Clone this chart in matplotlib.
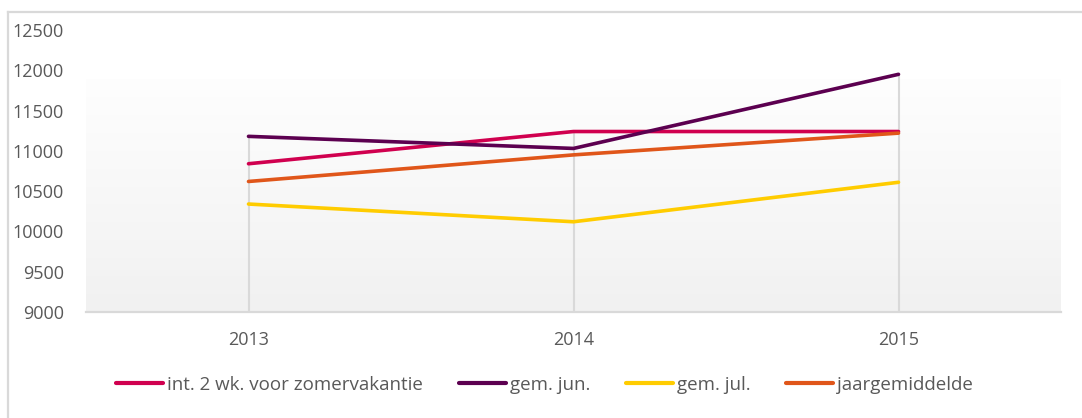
import numpy as np
import matplotlib
matplotlib.use("Agg")
import matplotlib.pyplot as plt
from matplotlib.lines import Line2D

plt.rcParams['font.family'] = ['Open Sans', 'DejaVu Sans']

years = ['2013', '2014', '2015']
series_names = ['int. 2 wk. voor zomervakantie', 'gem. jun.', 'gem. jul.', 'jaargemiddelde']
int_2wk = [10840, 11240, 11240]
gem_jun = [11180, 11030, 11950]
gem_jul = [10340, 10120, 10610]
jaargem = [10620, 10950, 11220]
colors = ['#d0004f', '#5c0050', '#ffcc00', '#e0561a']

yticks = [9000, 9500, 10000, 10500, 11000, 11500, 12000, 12500]
text_color = '#595959'
grid_color = '#d9d9d9'

fig = plt.figure(figsize=(10.82, 4.18), dpi=100)
ax = fig.add_axes([86 / 1082, 1 - 312 / 418, (1061 - 86) / 1082, (312 - 30) / 418])

# soft gradient behind the plot
grad = np.linspace(0, 1, 256).reshape(-1, 1)
cmap = matplotlib.colors.LinearSegmentedColormap.from_list('bg', ['#f1f1f1', '#fefefe'])
ax.imshow(grad, cmap=cmap, origin='lower', aspect='auto', extent=(0, 1, 0, 0.823),
          transform=ax.transAxes, zorder=0)

x = np.arange(len(years))
all_series = [int_2wk, gem_jun, gem_jul, jaargem]

# drop lines from highest value to the axis
tops = np.max(np.array(all_series), axis=0)
ax.vlines(x, yticks[0], tops, color=grid_color, lw=1.5, zorder=1)

for vals, name, c in zip(all_series, series_names, colors):
    ax.plot(x, vals, color=c, lw=2.6, label=name, solid_capstyle='round', zorder=3)

ax.set_xlim(-0.5, 2.5)
ax.set_ylim(9000, 12500)
ax.set_yticks(yticks)
ax.set_xticks(x)
ax.set_xticklabels(years)
ax.tick_params(axis='both', length=0, labelsize=13, colors=text_color)
ax.tick_params(axis='y', pad=16)
ax.tick_params(axis='x', pad=14)
for s in ['left', 'right', 'top']:
    ax.spines[s].set_visible(False)
ax.spines['bottom'].set_color(grid_color)
ax.spines['bottom'].set_linewidth(1.6)
ax.set_facecolor('white')

leg = fig.legend(loc='center', bbox_to_anchor=(544.5 / 1082, 1 - 385 / 418), ncol=4,
                 frameon=False, fontsize=13.5, handlelength=2.5, handletextpad=0.22,
                 columnspacing=1.9, labelcolor=text_color)
for h in leg.get_lines():
    h.set_linewidth(3)

# outer frame (top and left edges visible)
fig.add_artist(Line2D([8 / 1082, 1], [1 - 12 / 418] * 2, color=grid_color, lw=1.6))
fig.add_artist(Line2D([8 / 1082] * 2, [0, 1 - 12 / 418], color=grid_color, lw=1.6))

fig.savefig('out.png', dpi=100)
